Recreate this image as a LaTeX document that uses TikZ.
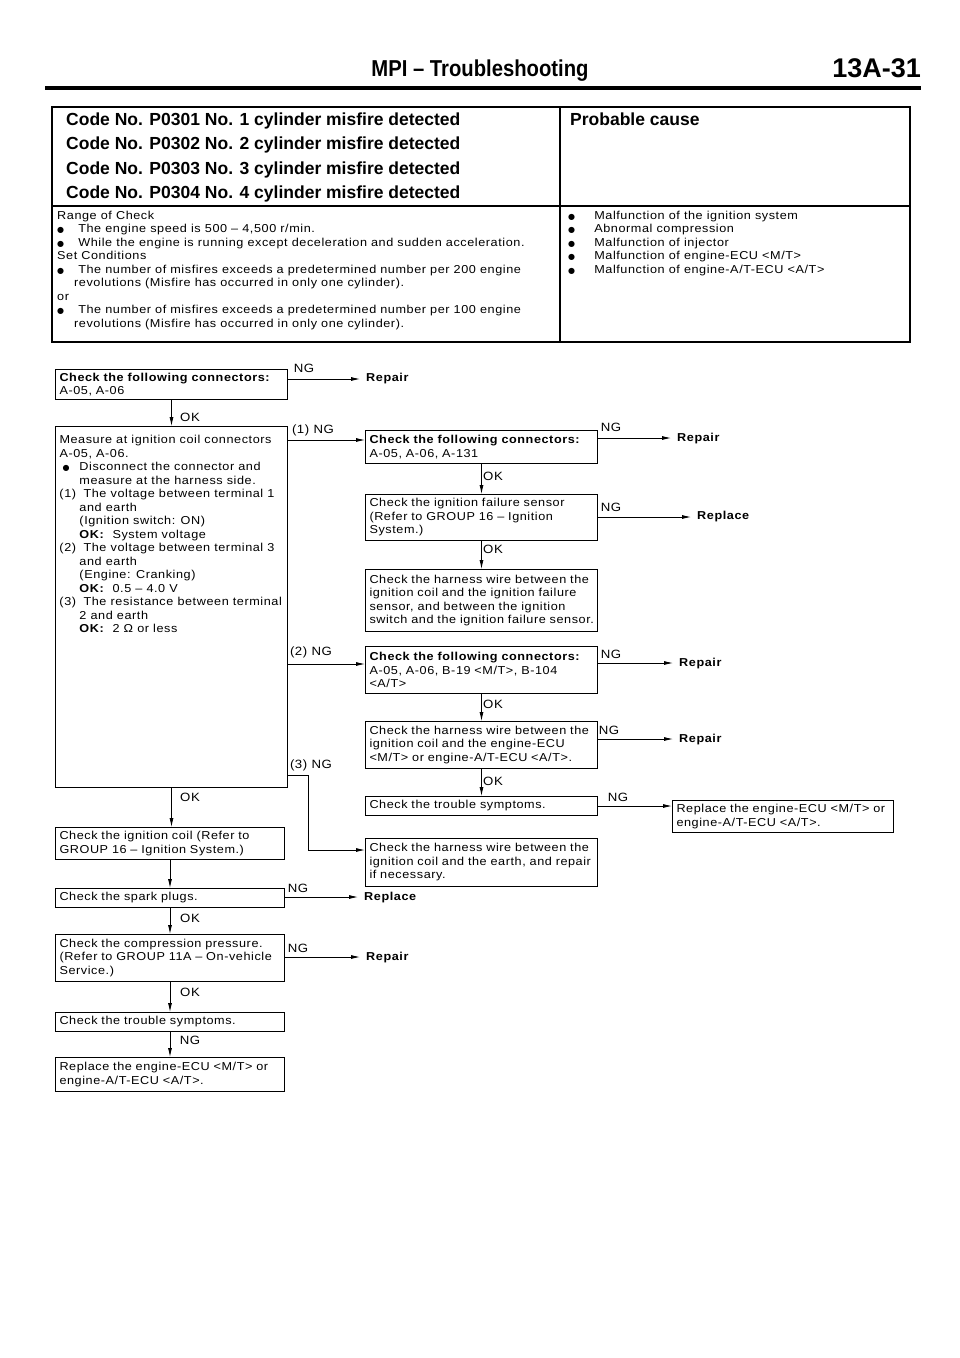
\documentclass[tikz,border=0pt]{standalone}
\usepackage{fontspec}
\setmainfont{Liberation Sans}[LetterSpace=5,FakeStretch=1.1]
\newfontfamily\hdfont{Liberation Sans}
\newfontfamily\titlefont{Liberation Sans}[FakeStretch=0.88]
\newfontfamily\dotfont{DejaVu Sans}
\usetikzlibrary{arrows.meta}
\newcommand\dotmark{{\dotfont\fontsize{8}{8}\selectfont ●}}
\newcommand\bul[1][14pt]{\par\hangindent=#1\hangafter=1\noindent\makebox[#1][l]{\dotmark}}
\newcommand\itm[1]{\par\hangindent=20pt\hangafter=1\noindent\makebox[20pt][l]{#1}}
\newcommand\bodysize{\fontsize{11.5}{13.5}\selectfont}
\tikzset{
 box/.style={draw, line width=1pt, anchor=north west, inner xsep=4pt, inner ysep=0pt, align=left, font=\bodysize},
 arr/.style={line width=0.8pt, -{Latex[length=9pt,width=4pt]}},
 lbl/.style={font=\fontsize{12}{13}\selectfont, inner sep=0pt},
 act/.style={font=\bfseries\fontsize{11.5}{13}\selectfont, anchor=west, inner xsep=6pt, inner ysep=0pt},
 code/.style={font=\hdfont\bfseries\fontsize{17.5}{20}\selectfont, anchor=base west, inner sep=0pt},
}
\begin{document}
\begin{tikzpicture}[x=1pt,y=-1pt]
\useasboundingbox (0,0) rectangle (960,1358);
% header
\node[font=\titlefont\bfseries\fontsize{23}{26}\selectfont, anchor=base, inner sep=0pt] (title) at (480,76) {MPI – Troubleshooting};
\node[font=\hdfont\bfseries\fontsize{27}{30}\selectfont, anchor=base east, inner sep=0pt] (page) at (921,77) {13A-31};
\draw[line width=3.5pt] (45,88) -- (921,88);
% table
\draw[line width=1.2pt] (52,107) rectangle (910,342);
\draw[line width=1.2pt] (560,107) -- (560,342);
\draw[line width=1.6pt] (52,206) -- (910,206);
\node[code] (c1) at (66,125) {Code No. P0301 No. 1 cylinder misfire detected};
\node[code] (c2) at (66,149.5) {Code No. P0302 No. 2 cylinder misfire detected};
\node[code] (c3) at (66,174) {Code No. P0303 No. 3 cylinder misfire detected};
\node[code] (c4) at (66,198.5) {Code No. P0304 No. 4 cylinder misfire detected};
\node[code] (pc) at (570,125) {Probable cause};
\node[anchor=base west, inner sep=0pt] (cond) at (57,219) {\parbox[t]{500pt}{\bodysize\raggedright
Range of Check
\bul[17pt] The engine speed is 500 – 4,500 r/min.
\bul[17pt] While the engine is running except deceleration and sudden acceleration.
\par\noindent Set Conditions
\bul[17pt] The number of misfires exceeds a predetermined number per 200 engine\newline revolutions (Misfire has occurred in only one cylinder).
\par\noindent or
\bul[17pt] The number of misfires exceeds a predetermined number per 100 engine\newline revolutions (Misfire has occurred in only one cylinder).}};
\node[anchor=base west, inner sep=0pt] (causes) at (568,219) {\parbox[t]{335pt}{\bodysize\raggedright
\bul[22pt] Malfunction of the ignition system
\bul[22pt] Abnormal compression
\bul[22pt] Malfunction of injector
\bul[22pt] Malfunction of engine-ECU <M/T>
\bul[22pt] Malfunction of engine-A/T-ECU <A/T>}};
% flowchart boxes
\node[box, text width=224pt, minimum height=30pt] (A) at (55,369) {\textbf{Check the following connectors:}\\A-05, A-06};
\node[box, inner ysep=0pt] (B) at (55,426) {\parbox[t][361pt][t]{224pt}{\bodysize\raggedright\vspace{9pt}
Measure at ignition coil connectors\\A-05, A-06.
\par\hangindent=20pt\hangafter=1\noindent\hspace{3pt}\makebox[17pt][l]{\dotmark}Disconnect the connector and\newline measure at the harness side.
\itm{(1)} The voltage between terminal 1\newline and earth\newline (Ignition switch: ON)\newline \textbf{OK:}~ System voltage
\itm{(2)} The voltage between terminal 3\newline and earth\newline (Engine: Cranking)\newline \textbf{OK:}~ 0.5 – 4.0 V
\itm{(3)} The resistance between terminal\newline 2 and earth\newline \textbf{OK:}~ 2 Ω or less}};
\node[box, text width=224pt, minimum height=33pt] (C) at (365,430) {\textbf{Check the following connectors:}\\A-05, A-06, A-131};
\node[box, text width=224pt, minimum height=46pt] (D) at (365,494) {Check the ignition failure sensor\\(Refer to GROUP 16 – Ignition\\System.)};
\node[box, text width=224pt, minimum height=62pt] (E) at (365,569) {Check the harness wire between the\\ignition coil and the ignition failure\\sensor, and between the ignition\\switch and the ignition failure sensor.};
\node[box, text width=224pt, minimum height=47pt] (F) at (365,646) {\textbf{Check the following connectors:}\\A-05, A-06, B-19 <M/T>, B-104\\<A/T>};
\node[box, text width=224pt, minimum height=47pt] (G) at (365,721) {Check the harness wire between the\\ignition coil and the engine-ECU\\<M/T> or engine-A/T-ECU <A/T>.};
\node[box, text width=224pt, minimum height=19pt] (H) at (365,796) {Check the trouble symptoms.};
\node[box, text width=213pt, minimum height=32pt] (I) at (672,800) {Replace the engine-ECU <M/T> or\\engine-A/T-ECU <A/T>.};
\node[box, text width=224pt, minimum height=48pt] (J) at (365,838) {Check the harness wire between the\\ignition coil and the earth, and repair\\if necessary.};
\node[box, text width=221pt, minimum height=32pt] (K) at (55,827) {Check the ignition coil (Refer to\\GROUP 16 – Ignition System.)};
\node[box, text width=221pt, minimum height=19pt] (L) at (55,888) {Check the spark plugs.};
\node[box, text width=221pt, minimum height=47pt] (M) at (55,934) {Check the compression pressure.\\(Refer to GROUP 11A – On-vehicle\\Service.)};
\node[box, text width=221pt, minimum height=19pt] (N) at (55,1012) {Check the trouble symptoms.};
\node[box, text width=221pt, minimum height=34pt] (O) at (55,1057) {Replace the engine-ECU <M/T> or\\engine-A/T-ECU <A/T>.};
% action words
\node[act] (rA) at (360,379) {Repair};
\node[act] (rC) at (671,439) {Repair};
\node[act] (rD) at (691,517) {Replace};
\node[act] (rF) at (673,664) {Repair};
\node[act] (rG) at (673,740) {Repair};
\node[act] (rL) at (358,898) {Replace};
\node[act] (rM) at (360,958) {Repair};
% connector start points
\coordinate (a1) at ([yshift=-10pt]A.north east);
\coordinate (b1) at ([yshift=-14pt]B.north east);
\coordinate (b2) at ([yshift=-238pt]B.north east);
\coordinate (b3) at ([yshift=-349pt]B.north east);
\coordinate (b3k) at (308,775);
\coordinate (b3j) at (308,850);
\coordinate (c1s) at ([yshift=-8pt]C.north east);
\coordinate (d1s) at ([yshift=-23pt]D.north east);
\coordinate (f1s) at ([yshift=-17pt]F.north east);
\coordinate (g1s) at ([yshift=-18pt]G.north east);
\coordinate (h1s) at ([yshift=-10pt]H.north east);
\coordinate (l1s) at ([yshift=-9pt]L.north east);
\coordinate (m1s) at ([yshift=-23pt]M.north east);
% NG connectors
\draw[arr] (a1) -- (a1 -| rA.west);
\draw[arr] (b1) -- (b1 -| C.west);
\draw[arr] (b2) -- (b2 -| F.west);
\draw[arr] (b3) -- (b3 -| b3k) -- (b3j) -- (b3j -| J.west);
\draw[arr] (c1s) -- (c1s -| rC.west);
\draw[arr] (d1s) -- (d1s -| rD.west);
\draw[arr] (f1s) -- (f1s -| rF.west);
\draw[arr] (g1s) -- (g1s -| rG.west);
\draw[arr] (h1s) -- (h1s -| I.west);
\draw[arr] (l1s) -- (l1s -| rL.west);
\draw[arr] (m1s) -- (m1s -| rM.west);
% vertical connectors
\draw[arr] (A.south) -- (A.south |- B.north);
\draw[arr] (B.south) -- (B.south |- K.north);
\draw[arr] (K.south) -- (K.south |- L.north);
\draw[arr] (L.south) -- (L.south |- M.north);
\draw[arr] (M.south) -- (M.south |- N.north);
\draw[arr] (N.south) -- (N.south |- O.north);
\draw[arr] (C.south) -- (C.south |- D.north);
\draw[arr] (D.south) -- (D.south |- E.north);
\draw[arr] (F.south) -- (F.south |- G.north);
\draw[arr] (G.south) -- (G.south |- H.north);
% labels
\node[lbl] (lA) at (304,368) {NG};
\node[lbl] (lAB) at (190,417) {OK};
\node[lbl] (l1) at (313,430) {(1) NG};
\node[lbl] (lC) at (611,427) {NG};
\node[lbl] (lCD) at (493,476) {OK};
\node[lbl] (lD) at (611,507) {NG};
\node[lbl] (lDE) at (493,549) {OK};
\node[lbl] (l2) at (311,652) {(2) NG};
\node[lbl] (lF) at (611,654) {NG};
\node[lbl] (lFG) at (493,704) {OK};
\node[lbl] (lG) at (609,730) {NG};
\node[lbl] (lGH) at (493,781) {OK};
\node[lbl] (lH) at (618,797) {NG};
\node[lbl] (l3) at (311,765) {(3) NG};
\node[lbl] (lBK) at (190,797) {OK};
\node[lbl] (lL) at (298,888) {NG};
\node[lbl] (lLM) at (190,918) {OK};
\node[lbl] (lM) at (298,948) {NG};
\node[lbl] (lMN) at (190,992) {OK};
\node[lbl] (lNO) at (190,1040) {NG};
\end{tikzpicture}
\end{document}
